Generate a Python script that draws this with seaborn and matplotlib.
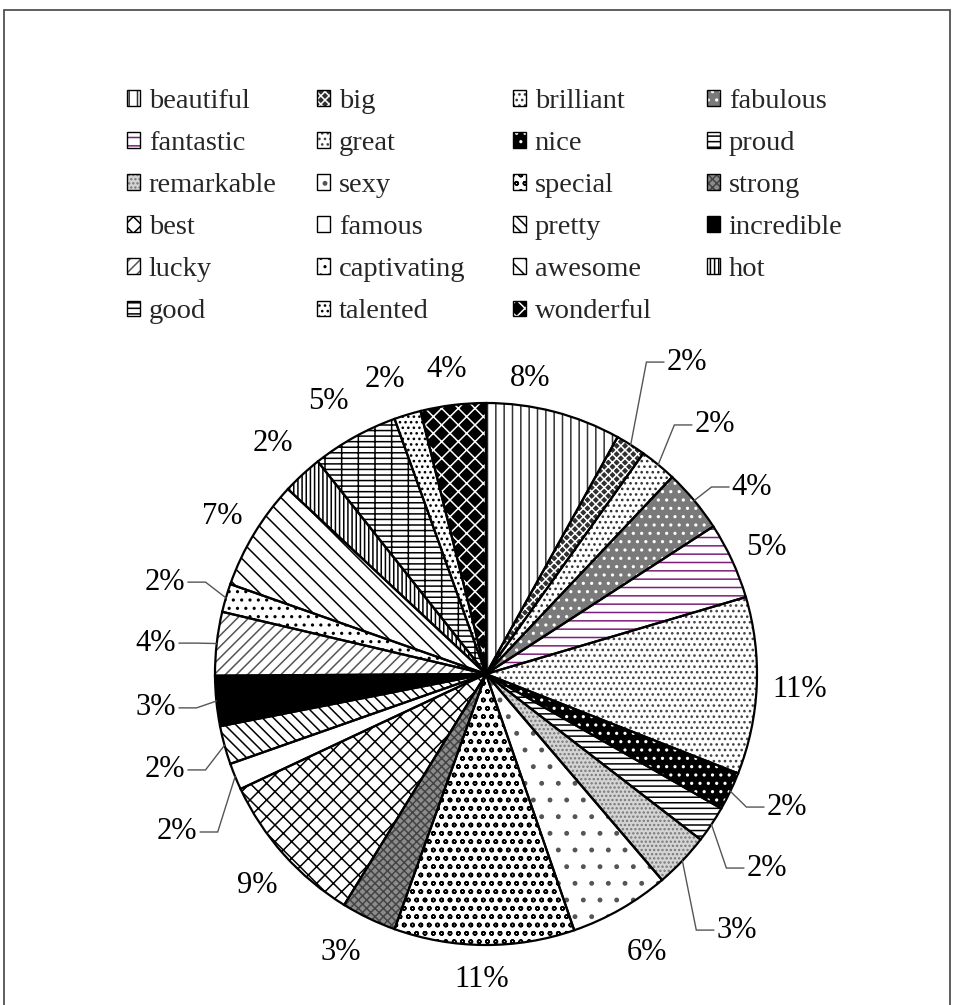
import numpy as np
import matplotlib
matplotlib.use("Agg")
import matplotlib.pyplot as plt
import seaborn as sns
from matplotlib.patches import Patch, Rectangle
from matplotlib.legend_handler import HandlerTuple

# ---------------- data ----------------
categories = ["beautiful", "big", "brilliant", "fabulous", "fantastic", "great",
              "nice", "proud", "remarkable", "sexy", "special", "strong", "best",
              "famous", "pretty", "incredible", "lucky", "captivating", "awesome",
              "hot", "good", "talented", "wonderful"]
shares = [8.1, 1.8, 2.2, 3.8, 4.6, 10.6, 2.3, 2.2, 3.3, 6.0, 10.8, 3.3, 9.3,
          1.6, 2.3, 3.0, 3.8, 1.7, 6.6, 2.4, 5.2, 1.6, 3.9]

# ---------------- styles (face colour, hatch, hatch colour) ----------------
face_colors = ["white", "#303030", "white", "#7a7a7a", "white", "white",
               "black", "white", "#d4d4d4", "white", "white", "#8c8c8c", "white",
               "white", "white", "black", "white", "white", "white",
               "white", "white", "white", "black"]
hatches = ["||", "xxxx", "...", "..", "--", "...",
           "..", "---", "....", ".", "oo", "xxxx", "xx",
           "", "\\\\\\", "", "///", "..", "\\\\",
           "||||", "+--", "...", "xx"]
hatch_colors = ["#333333", "white", "#333333", "white", "#7b1f7b", "#444444",
                "white", "black", "#777777", "#555555", "black", "#444444", "black",
                "black", "black", "black", "#555555", "black", "black",
                "black", "black", "black", "white"]

# ---------------- label layout (pie-radius units) ----------------
label_xy = [(0.162, 1.092), (0.742, 1.151), (0.845, 0.919), (0.982, 0.690),
            (1.033, 0.465), (1.159, -0.059), (1.111, -0.491), (1.037, -0.716),
            (0.926, -0.945), (0.594, -1.026), (-0.015, -1.129), (-0.535, -1.026),
            (-0.845, -0.782), (-1.140, -0.583), (-1.185, -0.354), (-1.218, -0.125),
            (-1.218, 0.114), (-1.185, 0.339), (-0.974, 0.583), (-0.786, 0.852),
            (-0.583, 1.004), (-0.373, 1.085), (-0.144, 1.122)]
leader = [False, True, True, True, False, False, True, True, True, False, False,
          False, False, True, True, True, True, True, False, False, False, False,
          False]
# legend column left edges (pixels)
legend_cols_px = [127, 317, 513, 707]

sns.set_theme(style="white")
plt.rcParams["font.family"] = ["Liberation Serif", "DejaVu Serif"]
plt.rcParams["hatch.linewidth"] = 1.1

W, H = 954, 1005
fig = plt.figure(figsize=(W / 100, H / 100), dpi=100)
fig.patch.set_facecolor("white")

cx, cy, R = 486, 674, 271
ax = fig.add_axes([(cx - R) / W, (H - cy - R) / H, 2 * R / W, 2 * R / H])

# filled + hatched wedges
wedges, _ = ax.pie(shares, startangle=90, counterclock=False, radius=1,
                   colors=face_colors, wedgeprops=dict(linewidth=0))
for w, h, hc in zip(wedges, hatches, hatch_colors):
    w.set_edgecolor(hc)
    w.set_linewidth(0)
    if h:
        w.set_hatch(h)

# outlines on top
outl, _ = ax.pie(shares, startangle=90, counterclock=False, radius=1,
                 colors=["none"] * len(shares),
                 wedgeprops=dict(edgecolor="black", linewidth=1.6, fill=False))

ax.set_xlim(-1, 1)
ax.set_ylim(-1, 1)
ax.set_aspect("equal", adjustable="box")
ax.axis("off")

total = sum(shares)
fs = 22
half_w = 0.085
for w, (lx, ly), s, has_leader in zip(wedges, label_xy, shares, leader):
    pct = f"{round(s / total * 100):d}%"
    ax.text(lx, ly, pct, ha="center", va="center", fontsize=fs, color="black",
            clip_on=False)
    if has_leader:
        mid = np.deg2rad((w.theta1 + w.theta2) / 2)
        axp, ayp = np.cos(mid), np.sin(mid)
        side = 1 if lx > 0 else -1
        ex = lx - side * half_w
        elx = ex - side * 0.065
        ax.plot([ex, elx, axp], [ly, ly, ayp], color="#555555", lw=1.0,
                clip_on=False, solid_joinstyle="miter")

# legend: 4 columns, row-major order, equal column pitch
handles = []
for fc, h, hc in zip(face_colors, hatches, hatch_colors):
    p1 = Patch(facecolor=fc, hatch=h if h else None, edgecolor=hc, linewidth=0)
    p2 = Patch(facecolor="none", edgecolor="black", linewidth=1.0)
    handles.append((p1, p2))
ncol = len(legend_cols_px)
lfs = 20.5
for c, xpx in enumerate(legend_cols_px):
    idx = list(range(c, len(categories), ncol))
    leg = fig.legend([handles[i] for i in idx], [categories[i] for i in idx],
                     handler_map={tuple: HandlerTuple(ndivide=1, pad=0)},
                     ncol=1, loc="upper left",
                     bbox_to_anchor=(xpx / W, 1 - 89 / H),
                     frameon=False, fontsize=lfs, handlelength=0.46,
                     handleheight=0.46, handletextpad=0.3, labelspacing=0.6,
                     borderpad=0, borderaxespad=0)

# outer border of the chart area
fig.add_artist(Rectangle((4 / W, -0.05), 946 / W, 1 - 10 / H + 0.05,
                         transform=fig.transFigure, fill=False,
                         edgecolor="#444444", linewidth=1.2))

fig.savefig("out.png", dpi=100, facecolor="white")
